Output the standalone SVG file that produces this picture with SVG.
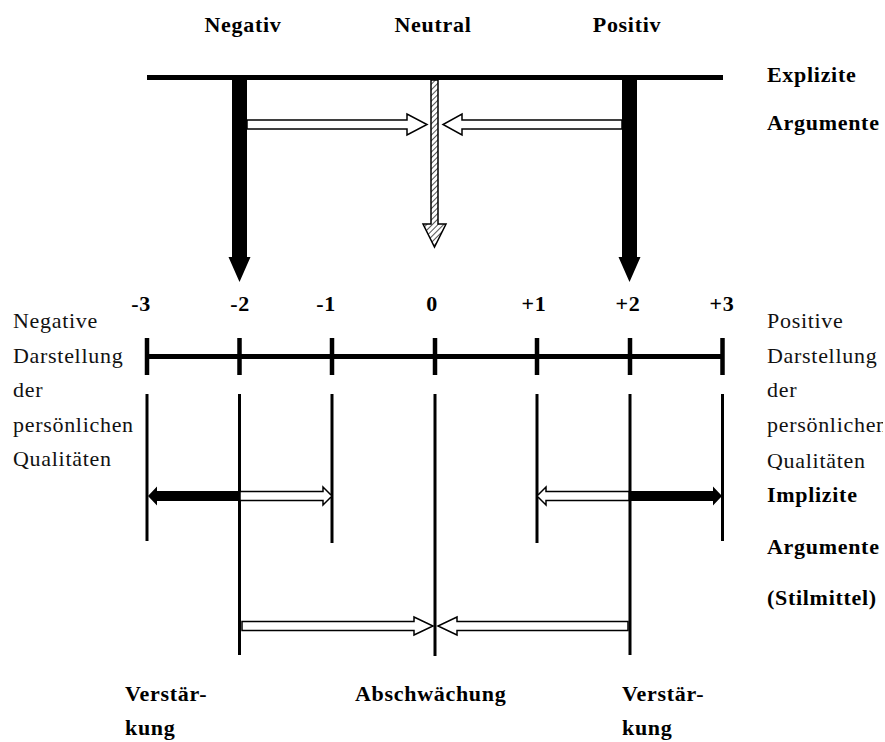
<svg xmlns="http://www.w3.org/2000/svg" width="885" height="742" viewBox="0 0 885 742">
<style>
.b{font-family:"Liberation Serif","Times New Roman",serif;font-weight:bold;font-size:22px;letter-spacing:0.7px;fill:#000}
.r{font-family:"Liberation Serif","Times New Roman",serif;font-size:22px;letter-spacing:0.7px;fill:#111}
.c{text-anchor:middle}
.ln{stroke:#000;fill:none}
.wa{fill:#fff;stroke:#000;stroke-width:1.5;stroke-linejoin:miter}
.ba{fill:#000;stroke:none}
</style>
<defs>
<pattern id="hatch" width="4" height="4" patternUnits="userSpaceOnUse" patternTransform="rotate(45)">
<rect width="4" height="4" fill="#fff"/>
<line x1="0" y1="0" x2="0" y2="4" stroke="#555" stroke-width="2"/>
</pattern>
<clipPath id="rclip"><rect x="760" y="300" width="123" height="170"/></clipPath>
</defs>

<g id="labels-top">
<text class="b c" x="243" y="32">Negativ</text>
<text class="b c" x="433" y="32">Neutral</text>
<text class="b c" x="627" y="32">Positiv</text>
</g>

<g id="label-explizit">
<text class="b" x="767" y="82">Explizite</text>
<text class="b" x="767" y="130">Argumente</text>
</g>

<g id="top-bar">
<rect x="147" y="75" width="576" height="5" fill="#000"/>
</g>

<g id="scale">
<line class="ln" x1="147" y1="356.5" x2="722.5" y2="356.5" stroke-width="5"/>
<g stroke="#000" stroke-width="4.5">
<line x1="147" y1="338" x2="147" y2="375"/>
<line x1="239.5" y1="338" x2="239.5" y2="375"/>
<line x1="332" y1="338" x2="332" y2="375"/>
<line x1="435" y1="338" x2="435" y2="375"/>
<line x1="537" y1="338" x2="537" y2="375"/>
<line x1="630" y1="338" x2="630" y2="375"/>
<line x1="722.5" y1="338" x2="722.5" y2="375"/>
</g>
<text class="b c" x="141" y="311">-3</text>
<text class="b c" x="240" y="311">-2</text>
<text class="b c" x="326" y="311">-1</text>
<text class="b c" x="432" y="311">0</text>
<text class="b c" x="534" y="311">+1</text>
<text class="b c" x="628" y="311">+2</text>
<text class="b c" x="722" y="311">+3</text>
</g>

<g id="verticals" stroke="#000" stroke-width="3">
<line x1="147" y1="394" x2="147" y2="541"/>
<line x1="239.5" y1="394" x2="239.5" y2="655"/>
<line x1="332" y1="394" x2="332" y2="543"/>
<line x1="435" y1="394" x2="435" y2="656"/>
<line x1="537" y1="394" x2="537" y2="543"/>
<line x1="630" y1="394" x2="630" y2="655"/>
<line x1="722.5" y1="394" x2="722.5" y2="541"/>
</g>

<g id="label-negative">
<text class="r" x="13" y="328">Negative</text>
<text class="r" x="13" y="362.5">Darstellung</text>
<text class="r" x="13" y="397">der</text>
<text class="r" x="13" y="431.5">persönlichen</text>
<text class="r" x="13" y="466">Qualitäten</text>
</g>

<g id="label-positive" clip-path="url(#rclip)">
<text class="r" x="767" y="328">Positive</text>
<text class="r" x="767" y="362.5">Darstellung</text>
<text class="r" x="767" y="397">der</text>
<text class="r" x="767" y="431.5">persönlichen</text>
<text class="r" x="767" y="468">Qualitäten</text>
</g>

<g id="label-implizit">
<text class="b" x="767" y="502">Implizite</text>
<text class="b" x="767" y="554">Argumente</text>
<text class="b" x="767" y="605">(Stilmittel)</text>
</g>

<g id="labels-bottom">
<text class="b" x="125" y="701">Verstär-</text>
<text class="b" x="125" y="735">kung</text>
<text class="b" x="355" y="701">Abschwächung</text>
<text class="b" x="622" y="701">Verstär-</text>
<text class="b" x="622" y="735">kung</text>
</g>

<g id="connectors">
<polygon class="ba" points="232,80 247,80 247,257 250.5,257 239.5,282 228.5,257 232,257"/>
<polygon class="ba" points="622,80 637,80 637,257 640.5,257 629.5,282 618.5,257 622,257"/>
<polygon points="431,80 438,80 438,224 446,224 434.5,247 423,224 431,224" fill="url(#hatch)" stroke="#000" stroke-width="1.5"/>
<polygon class="wa" points="247,120 407,120 407,114 427,124.5 407,135 407,129 247,129"/>
<polygon class="wa" points="622,120 462,120 462,114 443,124.5 462,135 462,129 622,129"/>
<polygon class="ba" points="239,491 157,491 157,486.5 148,496 157,505.5 157,501 239,501"/>
<polygon class="wa" points="240,491.5 323,491.5 323,487 332,496 323,505 323,500.5 240,500.5"/>
<polygon class="wa" points="629,491.5 546,491.5 546,487 537,496 546,505 546,500.5 629,500.5"/>
<polygon class="ba" points="630,491 713,491 713,486.5 722,496 713,505.5 713,501 630,501"/>
<polygon class="wa" points="242,621.5 414,621.5 414,617 433,626 414,635 414,630.5 242,630.5"/>
<polygon class="wa" points="628,621.5 457,621.5 457,617 438,626 457,635 457,630.5 628,630.5"/>
</g>
</svg>
